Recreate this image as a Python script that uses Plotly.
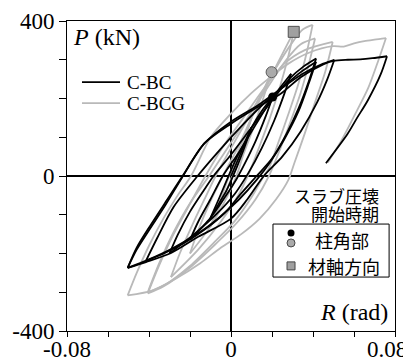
import plotly.graph_objects as go

# ---------------- data (R in rad, P in kN) ----------------
# C-BC hysteresis, branch by branch (each branch runs peak to peak)
bc_branches = [
    [(0, 0), (0.005, 62), (0.01, 125)],
    [(0.01, 125), (0.007, 80), (0.003, 25), (-0.002, -35), (-0.006, -72), (-0.01, -108)],
    [(-0.01, -108), (-0.006, -60), (-0.002, -10), (0.003, 50), (0.007, 90), (0.01, 125), (0.015, 168), (0.0203, 204)],
    [(0.0203, 204), (0.017, 155), (0.012, 90), (0.007, 35), (0.003, -5), (-0.003, -55), (-0.01, -108), (-0.02, -165)],
    [(-0.02, -165), (-0.016, -118), (-0.01, -60), (-0.004, 0), (0.004, 62), (0.012, 132), (0.02, 200), (0.025, 235), (0.0293, 264)],
    [(0.0293, 264), (0.026, 212), (0.021, 142), (0.015, 72), (0.0085, 8), (0.002, -45), (-0.007, -98), (-0.018, -150), (-0.03, -200)],
    [(-0.03, -200), (-0.026, -152), (-0.02, -92), (-0.013, -35), (-0.0085, 0), (0, 55), (0.01, 125), (0.02, 195), (0.0293, 255), (0.035, 281), (0.0415, 303)],
    [(0.0415, 303), (0.038, 245), (0.033, 175), (0.027, 108), (0.02, 45), (0.0125, 0), (0.005, -45), (-0.003, -95), (-0.012, -135), (-0.022, -170), (-0.032, -198), (-0.0415, -219)],
    [(-0.0415, -219), (-0.036, -160), (-0.028, -80), (-0.0163, 0), (-0.005, 70), (0.005, 128), (0.015, 182), (0.025, 228), (0.034, 268), (0.0415, 295)],
    [(0.0415, 295), (0.038, 240), (0.033, 168), (0.026, 95), (0.019, 35), (0.0125, -10), (0.004, -60), (-0.006, -108), (-0.016, -148), (-0.028, -185), (-0.04, -215), (-0.0504, -237)],
    [(-0.0504, -237), (-0.046, -190), (-0.04, -140), (-0.032, -75), (-0.024, -5), (-0.013, 84), (0, 140), (0.013, 182), (0.025, 228), (0.035, 264), (0.045, 290), (0.0504, 300)],
    [(0.0504, 300), (0.047, 250), (0.042, 190), (0.034, 115), (0.025, 50), (0.016, 0), (0.008, -60), (0, -110), (-0.016, -157), (-0.029, -198), (-0.0415, -222), (-0.0504, -237)],
    [(-0.0504, -237), (-0.046, -185), (-0.039, -125), (-0.031, -60), (-0.0236, 0), (-0.013, 84), (0, 135), (0.013, 178), (0.0244, 213), (0.034, 255), (0.045, 288), (0.05, 297),
     (0.057, 300), (0.063, 301), (0.069, 304), (0.0761, 309)],
    [(0.0761, 309), (0.073, 262), (0.0667, 195), (0.0615, 150), (0.0569, 109), (0.0463, 33)],
]

# C-BCG hysteresis
bcg_branches = [
    [(0, 0), (0.005, 75), (0.01, 150)],
    [(0.01, 150), (0.007, 100), (0.003, 35), (-0.002, -35), (-0.006, -85), (-0.01, -130)],
    [(-0.01, -130), (-0.006, -75), (-0.002, -15), (0.003, 55), (0.007, 110), (0.01, 150), (0.015, 210), (0.0198, 268)],
    [(0.0198, 268), (0.016, 205), (0.011, 125), (0.006, 55), (0.003, 5), (-0.003, -65), (-0.01, -130), (-0.02, -200)],
    [(-0.02, -200), (-0.016, -140), (-0.01, -65), (-0.004, 0), (0.003, 70), (0.01, 150), (0.02, 262), (0.0306, 372)],
    [(0.0306, 372), (0.028, 310), (0.024, 232), (0.019, 150), (0.014, 78), (0.009, 10), (0.003, -55), (-0.005, -118), (-0.016, -190), (-0.0293, -261)],
    [(-0.0293, -261), (-0.025, -200), (-0.019, -128), (-0.0125, -55), (-0.0075, 0), (0, 72), (0.01, 165), (0.02, 262), (0.0306, 350), (0.035, 378), (0.0398, 390)],
    [(0.0398, 390), (0.037, 320), (0.033, 240), (0.028, 160), (0.023, 85), (0.0185, 20), (0.016, 0), (0.01, -55), (0.002, -115), (-0.008, -170), (-0.02, -232), (-0.032, -280), (-0.0406, -300)],
    [(-0.0406, -300), (-0.035, -225), (-0.028, -145), (-0.02, -70), (-0.0107, 0), (-0.002, 70), (0.008, 150), (0.018, 230), (0.027, 300), (0.034, 340), (0.041, 355)],
    [(0.041, 355), (0.038, 290), (0.034, 215), (0.029, 140), (0.024, 70), (0.0185, 0), (0.012, -60), (0.003, -120), (-0.008, -178), (-0.02, -236), (-0.033, -285), (-0.0406, -303)],
    [(-0.0406, -303), (-0.035, -230), (-0.028, -150), (-0.02, -72), (-0.0125, 0), (-0.004, 75), (0.006, 150), (0.016, 225), (0.026, 290), (0.036, 325), (0.0496, 346)],
    [(0.0496, 346), (0.046, 270), (0.041, 190), (0.036, 110), (0.031, 35), (0.028, -10), (0.022, -60), (0.014, -110), (0.005, -150), (-0.005, -185), (-0.015, -225), (-0.027, -265), (-0.038, -295), (-0.0504, -308)],
    [(-0.0504, -308), (-0.046, -250), (-0.04, -180), (-0.033, -110), (-0.026, -50), (-0.0195, 0), (-0.0098, 101), (0, 161), (0.0098, 213), (0.018, 250), (0.028, 290), (0.038, 318),
     (0.0496, 335), (0.055, 334), (0.06, 342), (0.065, 348), (0.07, 352), (0.0756, 356)],
    [(0.0756, 356), (0.072, 300), (0.067, 228), (0.0601, 155), (0.0537, 90), (0.0472, 35)],
]

# slab crushing onset markers
corner_bc_R = [0.0203]
corner_bc_P = [204]
corner_bcg_R = [0.0198]
corner_bcg_P = [268]
axial_bcg_R = [0.0306]
axial_bcg_P = [372]

# ticks (the right-end label "0.08" is placed as an annotation so it fits the page)
x_tickvals = [-0.08, -0.06, -0.04, -0.02, 0, 0.02, 0.04, 0.06, 0.08]
x_ticktext = ["-0.08", "", "", "", "0", "", "", "", ""]
x_end_label = "0.08"
y_tickvals = [-400, -300, -200, -100, 0, 100, 200, 300, 400]
y_ticktext = ["-400", "", "", "", "0", "", "", "", "400"]

series_names = ["C-BC", "C-BCG"]
marker_labels = ["柱角部", "材軸方向"]
box_title = ["スラブ圧壊", "開始時期"]


def flatten(branches):
    xs, ys = [], []
    for br in branches:
        for r, p in br:
            xs.append(r)
            ys.append(p)
        xs.append(None)
        ys.append(None)
    return xs, ys


SERIF = "Liberation Serif, Times New Roman, Times, DejaVu Serif, serif"
CJK = "Noto Sans CJK JP"
GRAY = "rgb(185,185,185)"

fig = go.Figure()

gx, gy = flatten(bcg_branches)
fig.add_trace(go.Scatter(x=gx, y=gy, mode="lines", name=series_names[1],
                         line=dict(color=GRAY, width=1.8, shape="spline", smoothing=0.8),
                         connectgaps=False))
bx, by = flatten(bc_branches)
fig.add_trace(go.Scatter(x=bx, y=by, mode="lines", name=series_names[0],
                         line=dict(color="black", width=1.8, shape="spline", smoothing=0.8),
                         connectgaps=False))

fig.add_trace(go.Scatter(x=corner_bcg_R, y=corner_bcg_P, mode="markers",
                         marker=dict(symbol="circle", size=11, color="rgb(170,170,170)",
                                     line=dict(color="rgb(90,90,90)", width=1))))
fig.add_trace(go.Scatter(x=axial_bcg_R, y=axial_bcg_P, mode="markers",
                         marker=dict(symbol="square", size=11, color="rgb(160,160,160)",
                                     line=dict(color="rgb(80,80,80)", width=1))))
fig.add_trace(go.Scatter(x=corner_bc_R, y=corner_bc_P, mode="markers",
                         marker=dict(symbol="circle", size=9, color="black")))

# ---- legend samples drawn on an overlay axis spanning the plot area (0..1) ----
fig.add_trace(go.Scatter(x=[0.0457, 0.1616], y=[0.803, 0.803], xaxis="x2", yaxis="y2", mode="lines",
                         line=dict(color="black", width=1.8)))
fig.add_trace(go.Scatter(x=[0.0457, 0.1616], y=[0.735, 0.735], xaxis="x2", yaxis="y2", mode="lines",
                         line=dict(color=GRAY, width=1.8)))
fig.add_trace(go.Scatter(x=[0.683], y=[0.316], xaxis="x2", yaxis="y2", mode="markers",
                         marker=dict(symbol="circle", size=7, color="black")))
fig.add_trace(go.Scatter(x=[0.683], y=[0.284], xaxis="x2", yaxis="y2", mode="markers",
                         marker=dict(symbol="circle", size=8, color="rgb(170,170,170)",
                                     line=dict(color="rgb(70,70,70)", width=1))))
fig.add_trace(go.Scatter(x=[0.683], y=[0.210], xaxis="x2", yaxis="y2", mode="markers",
                         marker=dict(symbol="square", size=8, color="rgb(160,160,160)",
                                     line=dict(color="rgb(70,70,70)", width=1))))

fig.update_layout(
    width=403, height=353,
    margin=dict(l=59, r=16, t=13, b=30, autoexpand=False),
    paper_bgcolor="white", plot_bgcolor="white",
    showlegend=False,
    xaxis=dict(range=[-0.08, 0.08], tickvals=x_tickvals, ticktext=x_ticktext, automargin=False,
               ticks="outside", ticklen=5, tickwidth=1, tickcolor="black",
               ticklabelstandoff=-8, ticklabeloverflow="allow",
               showline=True, linecolor="black", linewidth=1, mirror=True,
               showgrid=False, zeroline=True, zerolinecolor="black", zerolinewidth=1.5,
               tickfont=dict(family=SERIF, size=23, color="black")),
    yaxis=dict(range=[-400, 400], tickvals=y_tickvals, ticktext=y_ticktext, automargin=False,
               ticks="outside", ticklen=7, tickwidth=1, tickcolor="black",
               ticklabeloverflow="allow",
               showline=True, linecolor="black", linewidth=1, mirror=True,
               showgrid=False, zeroline=True, zerolinecolor="black", zerolinewidth=1.5,
               tickfont=dict(family=SERIF, size=23, color="black")),
    xaxis2=dict(overlaying="x", range=[0, 1], visible=False),
    yaxis2=dict(overlaying="y", range=[0, 1], visible=False),
    shapes=[dict(type="rect", xref="paper", yref="paper", x0=0.628, x1=0.982, y0=0.174, y1=0.345,
                 line=dict(color="black", width=1), fillcolor="rgba(0,0,0,0)")],
    annotations=[
        dict(text=x_end_label, xref="paper", yref="paper", x=0.975, y=-0.060,
             xanchor="center", yanchor="middle", showarrow=False,
             font=dict(family=SERIF, size=23, color="black")),
        dict(text="<i>P</i> (kN)", xref="paper", yref="paper", x=0.012, y=0.950,
             xanchor="left", yanchor="middle", showarrow=False,
             font=dict(family=SERIF, size=24, color="black")),
        dict(text="<i>R</i> (rad)", xref="paper", yref="paper", x=0.985, y=0.062,
             xanchor="right", yanchor="middle", showarrow=False,
             font=dict(family=SERIF, size=24, color="black")),
        dict(text=series_names[0], xref="paper", yref="paper", x=0.177, y=0.803,
             xanchor="left", yanchor="middle", showarrow=False,
             font=dict(family=SERIF, size=19, color="black")),
        dict(text=series_names[1], xref="paper", yref="paper", x=0.177, y=0.735,
             xanchor="left", yanchor="middle", showarrow=False,
             font=dict(family=SERIF, size=19, color="black")),
        dict(text=box_title[0], xref="paper", yref="paper", x=0.957, y=0.438,
             xanchor="right", yanchor="middle", showarrow=False,
             font=dict(family=CJK, size=17, color="black")),
        dict(text=box_title[1], xref="paper", yref="paper", x=0.957, y=0.379,
             xanchor="right", yanchor="middle", showarrow=False,
             font=dict(family=CJK, size=17, color="black")),
        dict(text=marker_labels[0], xref="paper", yref="paper", x=0.837, y=0.294,
             xanchor="center", yanchor="middle", showarrow=False,
             font=dict(family=CJK, size=18, color="black")),
        dict(text=marker_labels[1], xref="paper", yref="paper", x=0.843, y=0.210,
             xanchor="center", yanchor="middle", showarrow=False,
             font=dict(family=CJK, size=18, color="black")),
    ],
)

fig.write_html("out.html")
